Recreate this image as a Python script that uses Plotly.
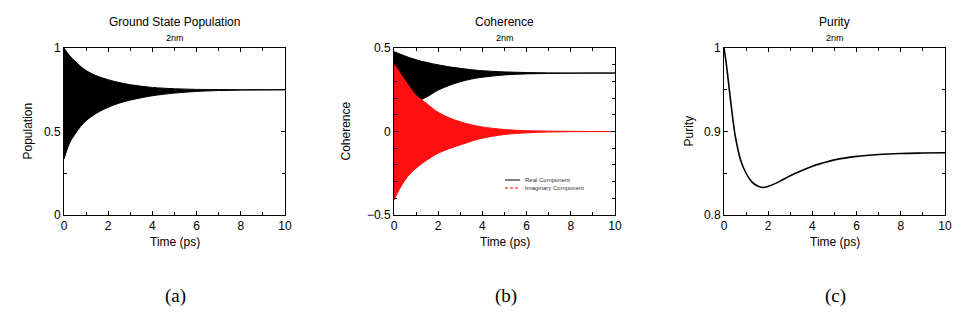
import plotly.graph_objects as go

# values
time_ps = [0, 0.25, 0.5, 0.75, 1, 1.25, 1.5, 2, 2.5, 3, 3.5, 4, 5, 6, 7, 8, 9, 10]

# (a) ground state population: envelope of the fast oscillation
pop_upper = [1.0, 0.955, 0.92, 0.89, 0.865, 0.847, 0.832, 0.81, 0.793, 0.78,
             0.771, 0.764, 0.756, 0.752, 0.751, 0.75, 0.75, 0.75]
pop_lower = [0.335, 0.43, 0.485, 0.53, 0.565, 0.59, 0.612, 0.645, 0.67, 0.688,
             0.702, 0.714, 0.73, 0.74, 0.745, 0.748, 0.749, 0.75]

# (b) coherence: real and imaginary component envelopes
re_upper = [0.478, 0.465, 0.452, 0.44, 0.43, 0.42, 0.413, 0.399, 0.387, 0.378,
            0.37, 0.364, 0.357, 0.353, 0.351, 0.35, 0.35, 0.35]
re_lower = [0.06, 0.09, 0.12, 0.15, 0.175, 0.192, 0.208, 0.248, 0.276, 0.298,
            0.314, 0.325, 0.339, 0.345, 0.348, 0.349, 0.35, 0.35]
im_upper = [0.405, 0.355, 0.305, 0.258, 0.215, 0.19, 0.165, 0.115, 0.082, 0.058,
            0.04, 0.027, 0.012, 0.005, 0.002, 0.001, 0.0, 0.0]
im_lower = [-0.41, -0.345, -0.29, -0.25, -0.22, -0.193, -0.17, -0.13, -0.103, -0.08,
            -0.058, -0.04, -0.018, -0.008, -0.003, -0.001, 0.0, 0.0]

# (c) purity
purity_t = [0, 0.1, 0.25, 0.4, 0.5, 0.75, 1, 1.25, 1.5, 1.75, 2, 2.5, 3, 3.5,
            4, 4.5, 5, 6, 7, 8, 9, 10]
purity = [1.0, 0.982, 0.948, 0.915, 0.896, 0.866, 0.85, 0.84, 0.835, 0.833,
          0.8343, 0.840, 0.847, 0.853, 0.8585, 0.8625, 0.866, 0.8702, 0.8725,
          0.8737, 0.8742, 0.8745]

titles = ["Ground State Population", "Coherence", "Purity"]
y_titles = ["Population", "Coherence", "Purity"]
captions = ["(a)", "(b)", "(c)"]

W, H = 977, 324
SANS = "Liberation Sans, Arial, sans-serif"

fig = go.Figure()


def band(x, lo, hi, color, xa, ya):
    fig.add_trace(go.Scatter(x=x, y=lo, mode="lines", line=dict(color=color, width=1, shape="spline"),
                             xaxis=xa, yaxis=ya, showlegend=False, hoverinfo="skip"))
    fig.add_trace(go.Scatter(x=x, y=hi, mode="lines", line=dict(color=color, width=1, shape="spline"),
                             fill="tonexty", fillcolor=color,
                             xaxis=xa, yaxis=ya, showlegend=False, hoverinfo="skip"))


band(time_ps, pop_lower, pop_upper, "black", "x", "y")
band(time_ps, re_lower, re_upper, "black", "x2", "y2")
band(time_ps, im_lower, im_upper, "#ff1010", "x2", "y2")

fig.add_trace(go.Scatter(x=purity_t, y=purity, mode="lines",
                         line=dict(color="black", width=1.6, shape="spline"),
                         xaxis="x3", yaxis="y3", showlegend=False))

# panel placement in pixels
panels = [(64, 285), (394, 615), (724, 945)]
y_top, y_bot = 48, 215
ytitle_x = [27, 345, 688]


def px_x(p):
    return p / W


def px_y(p):
    return 1 - p / H


def axis_style(**kw):
    d = dict(showline=True, linecolor="black", linewidth=1, mirror="ticks",
             ticks="inside", ticklen=4, tickcolor="black", showgrid=False,
             zeroline=False, automargin=False,
             tickfont=dict(family=SANS, size=12, color="black"))
    d.update(kw)
    return d


ydom = [px_y(y_bot), px_y(y_top)]
layout_axes = {}
for i, (x0, x1) in enumerate(panels):
    sfx = "" if i == 0 else str(i + 1)
    layout_axes["xaxis" + sfx] = axis_style(
        domain=[px_x(x0), px_x(x1)], range=[0, 10], dtick=2, anchor="y" + sfx,
        minor=dict(ticks="inside", ticklen=3, tickcolor="black", dtick=1))

layout_axes["yaxis"] = axis_style(
    domain=ydom, range=[0, 1], tickvals=[0, 0.5, 1], ticktext=["0", "0.5", "1"], anchor="x",
    minor=dict(ticks="inside", ticklen=3, tickcolor="black", tickvals=[0.25, 0.75]))
layout_axes["yaxis2"] = axis_style(
    domain=ydom, range=[-0.5, 0.5], tickvals=[-0.5, 0, 0.5], ticktext=["\u22120.5", "0", "0.5"],
    anchor="x2",
    minor=dict(ticks="inside", ticklen=3, tickcolor="black", dtick=0.1))
layout_axes["yaxis3"] = axis_style(
    domain=ydom, range=[0.8, 1], tickvals=[0.8, 0.9, 1], ticktext=["0.8", "0.9", "1"],
    anchor="x3",
    minor=dict(ticks="inside", ticklen=3, tickcolor="black", tickvals=[0.85, 0.95]))

fig.update_layout(width=W, height=H, margin=dict(l=0, r=0, t=0, b=0, autoexpand=False),
                  plot_bgcolor="white", paper_bgcolor="white", showlegend=False,
                  **layout_axes)

ann = []


def label(x, y, text, size, family=SANS, xanchor="center", color="black", angle=0):
    ann.append(dict(x=x, y=y, xref="paper", yref="paper", text=text, showarrow=False,
                    xanchor=xanchor, yanchor="middle", textangle=angle,
                    font=dict(family=family, size=size, color=color)))


for (x0, x1), t, yt, yx, c in zip(panels, titles, y_titles, ytitle_x, captions):
    xc = px_x((x0 + x1) / 2)
    label(xc, px_y(22), t, 12)
    label(xc, px_y(38.5), "2nm", 9)
    label(xc, px_y(242), "Time (ps)", 12)
    label(px_x(yx), px_y((y_top + y_bot) / 2), yt, 12, angle=-90)
    label(px_x((x0 + x1) / 2 + 1), px_y(296), c, 19, family="Liberation Serif, serif")

# legend of panel (b)
for yy, txt in [(180, "Real Component"), (188, "Imaginary Component")]:
    label(px_x(523), px_y(yy), txt, 6, xanchor="left", color="#333333")
shapes = [
    dict(type="line", xref="paper", yref="paper", x0=px_x(505), x1=px_x(520),
         y0=px_y(180), y1=px_y(180), line=dict(color="black", width=1)),
    dict(type="line", xref="paper", yref="paper", x0=px_x(505), x1=px_x(520),
         y0=px_y(188), y1=px_y(188), line=dict(color="red", width=1, dash="3px,2px")),
]
fig.update_layout(annotations=ann, shapes=shapes)

fig.write_html("out.html", config={"displayModeBar": False},
               post_script="document.body.style.margin='0px';")
